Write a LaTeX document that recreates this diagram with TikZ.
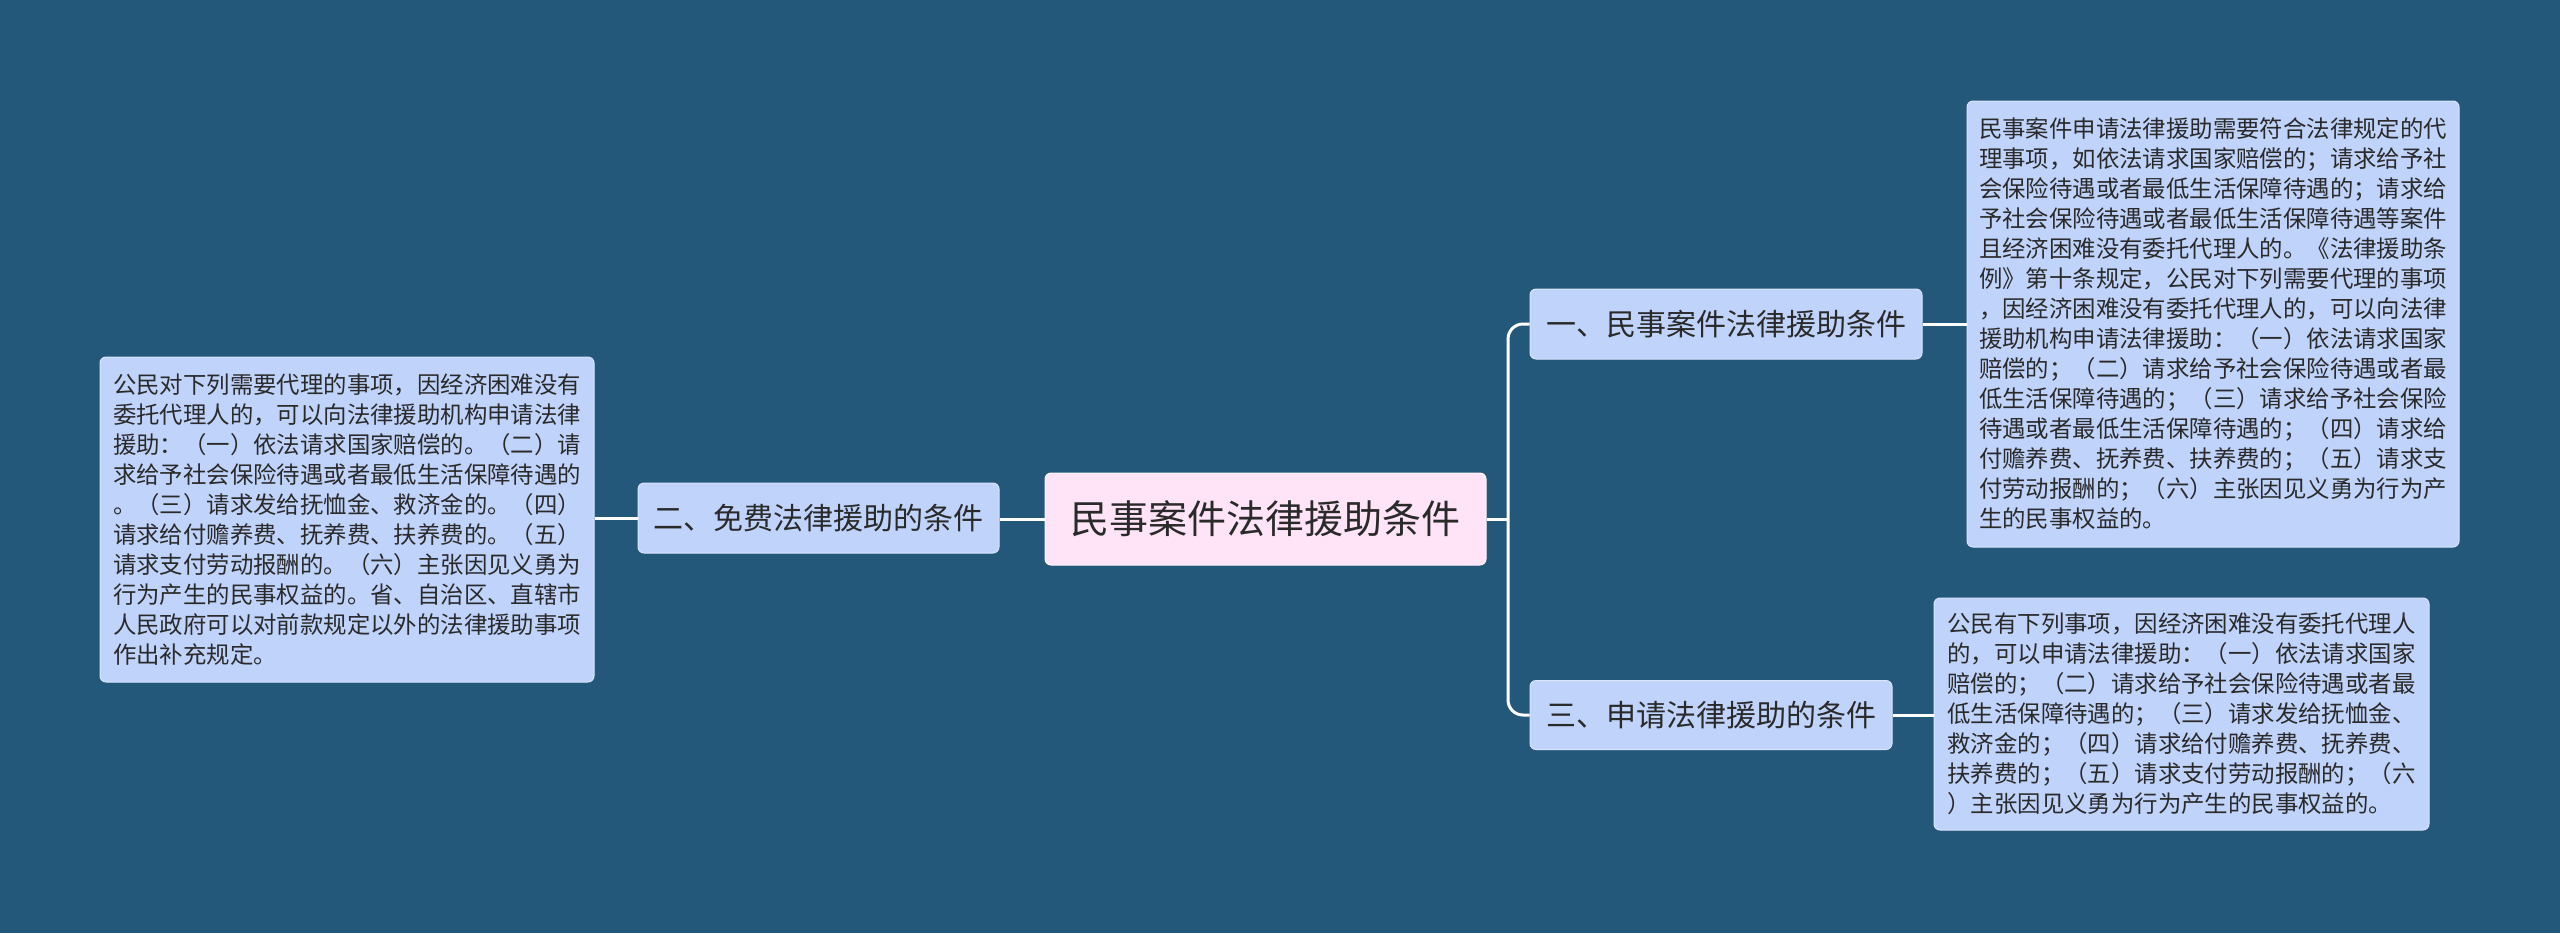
\documentclass[tikz,border=0pt]{standalone}
\usepackage{fontspec}
\setmainfont{Noto Sans CJK SC}
\definecolor{bgc}{HTML}{23587A}
\definecolor{boxc}{HTML}{C0D3FA}
\definecolor{rootc}{HTML}{FFE4F8}
\definecolor{txtc}{HTML}{2A2A2A}
\tikzset{
  conn/.style={draw=white, line width=1.5pt},
  rootbox/.style={rectangle, rounded corners=3pt, fill=rootc, draw=white!60!rootc, line width=0.5pt, text=txtc, inner sep=0pt, font=\fontsize{19.5pt}{24pt}\selectfont},
  topicbox/.style={rectangle, rounded corners=3pt, fill=boxc, draw=white!40!boxc, line width=0.5pt, text=txtc, inner sep=0pt, font=\fontsize{15pt}{18pt}\selectfont},
  notebox/.style={rectangle, rounded corners=3pt, fill=boxc, draw=white!40!boxc, line width=0.5pt, text=txtc, inner sep=0pt, align=left, font=\fontsize{11.7pt}{15pt}\selectfont}
}
\begin{document}
\begin{tikzpicture}[x=0.5pt, y=-0.5pt]
\fill[bgc] (0,0) rectangle (2560,933);
\useasboundingbox (0,0) rectangle (2560,933);

\node[rootbox, minimum width=220.5pt, minimum height=46pt] (root) at (1265.5,519) {民事案件法律援助条件};
\node[topicbox, minimum width=180.5pt, minimum height=35pt] (two) at (818.5,518) {二、免费法律援助的条件};
\node[topicbox, minimum width=196pt, minimum height=35pt] (one) at (1726,324) {一、民事案件法律援助条件};
\node[topicbox, minimum width=181pt, minimum height=34.5pt] (three) at (1711,715) {三、申请法律援助的条件};

\node[notebox, minimum width=246pt, minimum height=223pt] (onenote) at (2213,324) {民事案件申请法律援助需要符合法律规定的代\\理事项，如依法请求国家赔偿的；请求给予社\\会保险待遇或者最低生活保障待遇的；请求给\\予社会保险待遇或者最低生活保障待遇等案件\\且经济困难没有委托代理人的。《法律援助条\\例》第十条规定，公民对下列需要代理的事项\\，因经济困难没有委托代理人的，可以向法律\\援助机构申请法律援助：（一）依法请求国家\\赔偿的；（二）请求给予社会保险待遇或者最\\低生活保障待遇的；（三）请求给予社会保险\\待遇或者最低生活保障待遇的；（四）请求给\\付赡养费、抚养费、扶养费的；（五）请求支\\付劳动报酬的；（六）主张因见义勇为行为产\\生的民事权益的。};

\node[notebox, minimum width=247.5pt, minimum height=116pt] (threenote) at (2181.5,714) {公民有下列事项，因经济困难没有委托代理人\\的，可以申请法律援助：（一）依法请求国家\\赔偿的；（二）请求给予社会保险待遇或者最\\低生活保障待遇的；（三）请求发给抚恤金、\\救济金的；（四）请求给付赡养费、抚养费、\\扶养费的；（五）请求支付劳动报酬的；（六\\）主张因见义勇为行为产生的民事权益的。};

\node[notebox, minimum width=247pt, minimum height=162.5pt] (twonote) at (347,519.5) {公民对下列需要代理的事项，因经济困难没有\\委托代理人的，可以向法律援助机构申请法律\\援助：（一）依法请求国家赔偿的。（二）请\\求给予社会保险待遇或者最低生活保障待遇的\\。（三）请求发给抚恤金、救济金的。（四）\\请求给付赡养费、抚养费、扶养费的。（五）\\请求支付劳动报酬的。（六）主张因见义勇为\\行为产生的民事权益的。省、自治区、直辖市\\人民政府可以对前款规定以外的法律援助事项\\作出补充规定。};

\coordinate (fork) at (1508,519);
\draw[conn] (root.east) -- (fork);
\draw[conn, rounded corners=7.5pt] (one.west) -| (fork);
\draw[conn, rounded corners=7.5pt] (three.west) -| (fork);
\draw[conn] (root.west) -- (root.west -| two.east);
\draw[conn] (two.west) -- (two.west -| twonote.east);
\draw[conn] (one.east) -- (one.east -| onenote.west);
\draw[conn] (three.east) -- (three.east -| threenote.west);
\end{tikzpicture}
\end{document}
